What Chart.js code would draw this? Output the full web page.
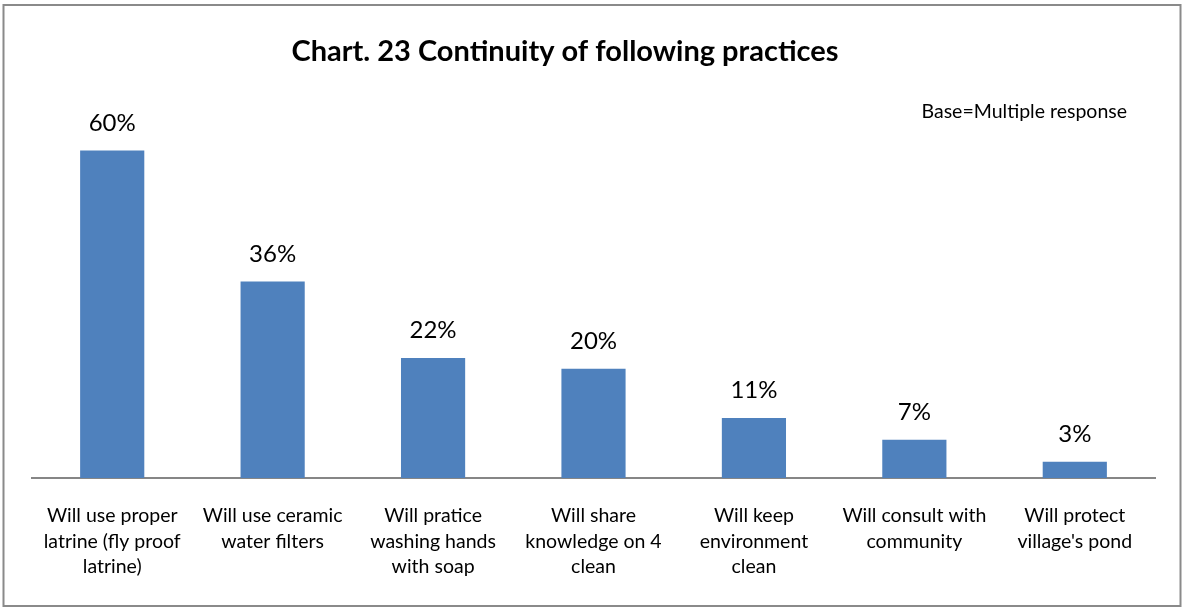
<!DOCTYPE html>
<html>
<head>
<meta charset="utf-8">
<script src="https://cdn.jsdelivr.net/npm/chart.js@4"></script>
<style>
  html, body { margin: 0; padding: 0; background: #ffffff; }
  #wrap { width: 1184px; height: 608px; position: relative; }
</style>
</head>
<body>
<div id="wrap"><canvas id="chart" width="1184" height="608"></canvas></div>
<script>
// Survey data: share of respondents who will continue each practice
const chartTitle = "Chart. 23 Continuity of following practices";
const baseNote = "Base=Multiple response";
const categories = [
  ["Will use proper", "latrine (fly proof", "latrine)"],
  ["Will use ceramic", "water filters"],
  ["Will pratice", "washing hands", "with soap"],
  ["Will share", "knowledge on 4", "clean"],
  ["Will keep", "environment", "clean"],
  ["Will consult with", "community"],
  ["Will protect", "village's pond"]
];
const shares = [60, 36, 22, 20, 11, 7, 3];
const shareLabels = shares.map(v => v + "%");

const FONT = "Lato, 'Open Sans', sans-serif";

// Outer frame, title, note and value labels drawn on the canvas
const decorations = {
  id: "decorations",
  beforeDraw(chart) {
    const ctx = chart.ctx;
    ctx.save();
    ctx.fillStyle = "#ffffff";
    ctx.fillRect(0, 0, chart.width, chart.height);
    ctx.strokeStyle = "#8a8a8a";
    ctx.lineWidth = 2;
    ctx.strokeRect(3.5, 5, 1177, 601);
    ctx.restore();
  },
  afterDraw(chart) {
    const ctx = chart.ctx;
    ctx.save();
    ctx.fillStyle = "#000000";
    ctx.textBaseline = "alphabetic";

    ctx.font = "bold 29px " + FONT;
    ctx.textAlign = "center";
    ctx.fillText(chartTitle, 565, 61);

    ctx.font = "19.5px " + FONT;
    ctx.textAlign = "right";
    ctx.fillText(baseNote, 1127, 118);

    ctx.font = "24px " + FONT;
    ctx.textAlign = "center";
    const meta = chart.getDatasetMeta(0);
    meta.data.forEach((bar, i) => {
      ctx.fillText(shareLabels[i], bar.x, bar.y - 20);
    });
    ctx.restore();
  }
};

new Chart(document.getElementById("chart"), {
  type: "bar",
  data: {
    labels: categories,
    datasets: [{
      data: shares,
      backgroundColor: "#4f81bd",
      borderWidth: 0,
      categoryPercentage: 1.0,
      barPercentage: 0.4
    }]
  },
  options: {
    responsive: false,
    devicePixelRatio: 1,
    animation: false,
    layout: { padding: { left: 32, right: 29, top: 96, bottom: 0 } },
    plugins: {
      legend: { display: false },
      title: { display: false },
      tooltip: { enabled: false }
    },
    scales: {
      y: { display: false, min: 0, max: 70 },
      x: {
        afterFit(scale) { scale.height = 130; },
        grid: { display: false, drawTicks: false },
        border: { display: true, color: "#868686", width: 2 },
        ticks: {
          color: "#000000",
          padding: 25,
          maxRotation: 0,
          autoSkip: false,
          font: { family: FONT, size: 19.5, lineHeight: 1.31 }
        }
      }
    }
  },
  plugins: [decorations]
});
</script>
</body>
</html>
